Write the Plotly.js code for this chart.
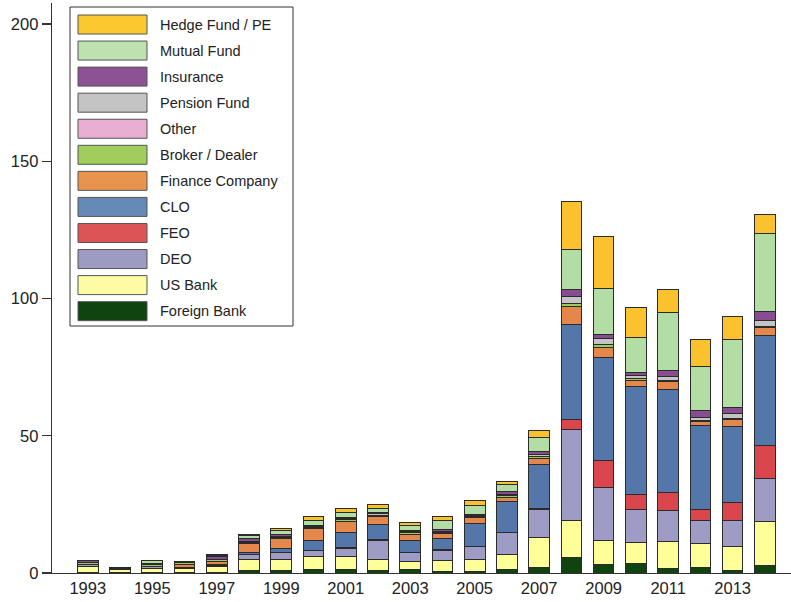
<!DOCTYPE html>
<html>
<head>
<meta charset="utf-8">
<script src="https://cdn.plot.ly/plotly-3.0.1.min.js"></script>
<style>html,body{margin:0;padding:0;background:#fff;}#chart{width:791px;height:602px;}</style>
</head>
<body>
<div id="chart"></div>
<script>
const years = [1993,1994,1995,1996,1997,1998,1999,2000,2001,2002,2003,2004,2005,2006,2007,2008,2009,2010,2011,2012,2013,2014];
const tickYears = [1993,1995,1997,1999,2001,2003,2005,2007,2009,2011,2013];

const foreignBank = [0.3,0.3,0.3,0.3,0.3,0.8,0.8,1.2,1.2,0.8,1.2,0.7,0.6,1.2,2.1,5.7,3.0,3.6,1.7,2.1,1.0,2.9];
const usBank      = [2.0,0.9,1.4,1.3,1.9,4.3,4.3,4.9,4.9,4.2,3.1,3.9,4.5,5.4,10.9,13.5,8.8,7.6,9.9,8.8,8.6,16.0];
const deo         = [0.8,0,0.5,0.5,0.4,1.5,2.2,2.0,3.0,7.0,3.0,3.7,4.5,8.0,10.1,33.2,19.5,11.8,11.1,8.2,9.4,15.4];
const feo         = [0,0,0,0,0,0.2,0.3,0.2,0.3,0.3,0.3,0.3,0.2,0.3,0.5,3.6,9.5,5.6,6.8,4.0,6.8,12.2];
const clo         = [0,0,0.3,0,0.5,0.8,1.2,3.5,5.4,5.3,4.4,4.1,8.4,11.1,15.8,34.5,37.6,39.4,37.4,30.7,27.6,40.1];
const financeCo   = [0,0,0,1.1,1.1,3.2,3.6,4.3,3.9,2.9,2.0,1.8,2.0,1.6,2.2,6.4,3.7,2.2,2.8,1.5,2.4,2.7];
const brokerDealer= [0.7,0.5,0.5,0.5,0.8,0.4,0.6,0.6,0.8,0.6,0.6,0.4,0.4,0.6,0.8,1.2,1.1,0.6,0.3,0.3,0.4,0.3];
const other       = [0,0,0,0,0,0,0,0,0,0,0,0,0,0,0,0,0,0,0,0,0,0];
const pensionFund = [0,0,0,0,0,0.3,0.4,0.3,0.4,0.4,0.4,0.3,0.3,0.5,0.7,2.7,2.1,1.2,1.4,1.0,1.8,2.3];
const insurance   = [0.9,0.4,0.5,0.6,0.9,0.9,0.5,0.3,0.4,0.4,0.4,0.5,0.3,1.0,1.3,2.4,1.6,1.1,2.2,2.7,2.2,3.2];
const mutualFund  = [0,0,1.0,0,0.5,1.2,1.5,2.0,1.8,1.5,1.9,3.4,3.4,2.5,5.1,14.5,16.6,12.6,21.3,16.0,24.7,28.6];
const hedgeFund   = [0,0,0,0,0.5,0.5,0.9,1.2,1.5,1.4,1.2,1.6,1.8,1.1,2.4,17.5,19.1,10.9,8.4,9.9,8.7,6.7];

// stacking order bottom -> top
const seriesNames = ['Foreign Bank','US Bank','DEO','FEO','CLO','Finance Company','Broker / Dealer','Other','Pension Fund','Insurance','Mutual Fund','Hedge Fund / PE'];
const seriesValues = [foreignBank,usBank,deo,feo,clo,financeCo,brokerDealer,other,pensionFund,insurance,mutualFund,hedgeFund];
const seriesColors = ['#0f4410','#ffff99','#9e9bc5','#d9474c','#5277a8','#e3884a','#9ccb58','#e8aed2','#c4c4c4','#874c91','#b3dea3','#fbc22d'];
const legendColors = ['#0f4410','#fdfca4','#9e9bc2','#da5553','#648ab5','#e8944f','#a1cd5c','#e8afd3','#c4c4c4','#8c5293','#bee1b0','#fbc92f'];

const FONT = 'Liberation Sans, Arial, Helvetica, sans-serif';

const traces = seriesNames.map((n,i)=>({
  type:'bar', name:n, x:years, y:seriesValues[i],
  marker:{color:seriesColors[i], line:{color:'#2b2b2b', width:1}},
  showlegend:false, hoverinfo:'x+y+name'
}));

// geometry for the custom legend (pixel positions -> paper coordinates)
const W=791, H=602, ML=52, MR=0, MT=3, MB=29;
const PW=W-ML-MR, PH=H-MT-MB;
const px = x => (x-ML)/PW;
const py = y => (H-MB-y)/PH;

const shapes = [{type:'rect', xref:'paper', yref:'paper', x0:px(70), x1:px(293), y0:py(326), y1:py(7),
  line:{color:'#333', width:1}, fillcolor:'rgba(255,255,255,1)', layer:'above'}];
const annotations = [];
for (let k=0;k<seriesNames.length;k++){
  const i = seriesNames.length-1-k;
  const cy = 24.5 + 26.06*k;
  shapes.push({type:'rect', xref:'paper', yref:'paper', x0:px(78), x1:px(147), y0:py(cy+9.5), y1:py(cy-9.5),
    line:{color:'#555', width:1}, fillcolor:legendColors[i], layer:'above'});
  annotations.push({xref:'paper', yref:'paper', x:px(158), y:py(cy), xanchor:'left', yanchor:'middle',
    text:seriesNames[i], showarrow:false, font:{family:FONT, size:14.5, color:'#222'}});
}

const layout = {
  width:W, height:H, margin:{l:ML, r:MR, t:MT, b:MB},
  paper_bgcolor:'#fff', plot_bgcolor:'#fff',
  barmode:'stack', bargap:0.36,
  xaxis:{range:[1991.89,2014.81], tickvals:tickYears, ticktext:tickYears.map(String), ticks:'', showgrid:false, zeroline:false,
    showline:true, linecolor:'#333', linewidth:1.3, tickfont:{family:FONT, size:16.5, color:'#222'}, fixedrange:true},
  yaxis:{range:[0,207.6], tickvals:[0,50,100,150,200], ticks:'outside', ticklen:9, tickcolor:'#333', tickwidth:1.3,
    showgrid:false, zeroline:false, showline:true, linecolor:'#333', linewidth:1.3,
    tickfont:{family:FONT, size:16.5, color:'#222'}, fixedrange:true},
  shapes:shapes, annotations:annotations, showlegend:false
};

Plotly.newPlot('chart', traces, layout, {displayModeBar:false, staticPlot:true});
</script>
</body>
</html>
